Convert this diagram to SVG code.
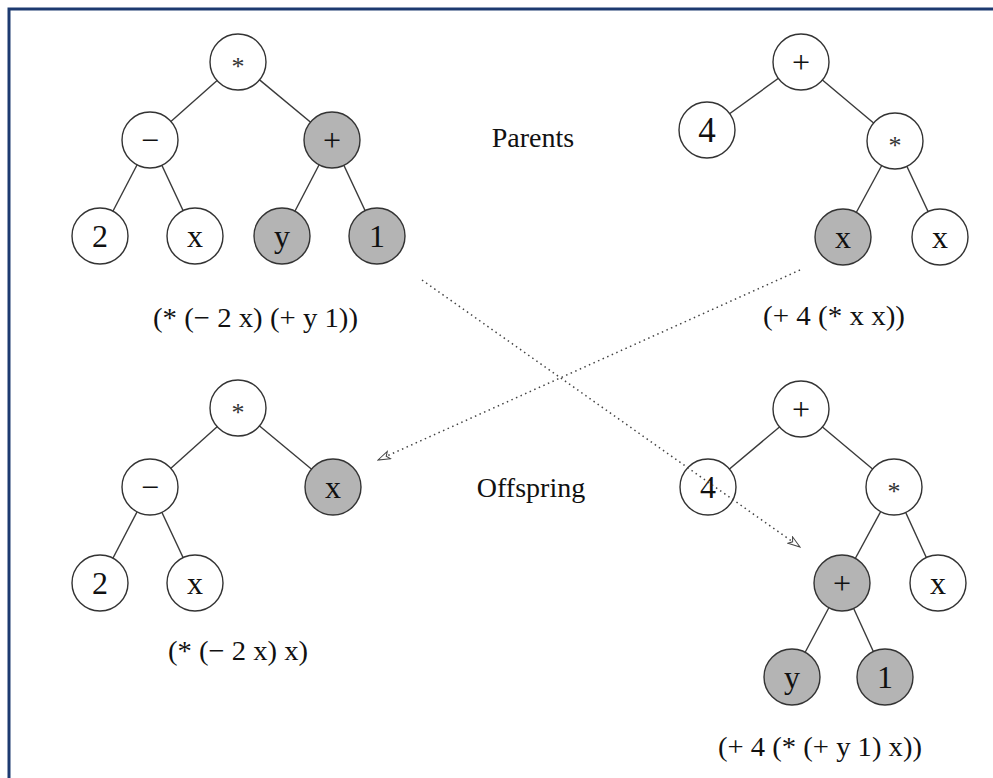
<svg xmlns="http://www.w3.org/2000/svg" width="993" height="778" viewBox="0 0 993 778">
  <style>
    .edge { stroke: #3a3a3a; stroke-width: 1.4; fill: none; }
    .node circle { stroke: #333; stroke-width: 1.4; fill: #fff; }
    .node.sel circle { fill: #b4b4b4; }
    .node text { font-family: "Liberation Serif", "Times New Roman", serif; font-size: 32px; text-anchor: middle; fill: #111; }
    .node text.star { font-size: 26px; fill: #333; }
    .node text.big { font-size: 35px; }
    .lbl { font-family: "Liberation Serif", "Times New Roman", serif; font-size: 28px; text-anchor: middle; fill: #111; }
    .xover { stroke: #444; stroke-width: 1.5; stroke-dasharray: 1.5 3.5; fill: none; marker-end: url(#open); }
  </style>
  <defs>
    <marker id="open" viewBox="0 0 14 10" refX="13" refY="5" markerWidth="14" markerHeight="10" markerUnits="userSpaceOnUse" orient="auto">
      <path d="M1,1 L13,5 L1,9 L4,5 Z" fill="#fff" stroke="#444" stroke-width="1"/>
    </marker>
  </defs>

  <rect x="9" y="9" width="1000" height="1000" fill="#fff" stroke="#1d3a70" stroke-width="3"/>

  <!-- tree edges -->
  <g id="tree-edges">
    <line class="edge" x1="238" y1="62" x2="150" y2="140"/>
    <line class="edge" x1="238" y1="62" x2="332" y2="140"/>
    <line class="edge" x1="150" y1="140" x2="100" y2="236"/>
    <line class="edge" x1="150" y1="140" x2="195" y2="236"/>
    <line class="edge" x1="332" y1="140" x2="282" y2="236"/>
    <line class="edge" x1="332" y1="140" x2="377" y2="236"/>

    <line class="edge" x1="801" y1="62" x2="707" y2="130"/>
    <line class="edge" x1="801" y1="62" x2="895" y2="141"/>
    <line class="edge" x1="895" y1="141" x2="843" y2="237"/>
    <line class="edge" x1="895" y1="141" x2="940" y2="237"/>

    <line class="edge" x1="238" y1="408" x2="150" y2="487"/>
    <line class="edge" x1="238" y1="408" x2="333" y2="487"/>
    <line class="edge" x1="150" y1="487" x2="100" y2="583"/>
    <line class="edge" x1="150" y1="487" x2="195" y2="583"/>

    <line class="edge" x1="801" y1="409" x2="708" y2="487"/>
    <line class="edge" x1="801" y1="409" x2="894" y2="487"/>
    <line class="edge" x1="894" y1="487" x2="842" y2="583"/>
    <line class="edge" x1="894" y1="487" x2="938" y2="583"/>
    <line class="edge" x1="842" y1="583" x2="792" y2="677"/>
    <line class="edge" x1="842" y1="583" x2="885" y2="677"/>
  </g>

  <!-- parent 1: (* (- 2 x) (+ y 1)) -->
  <g id="p1-mul" class="node"><circle cx="238" cy="62" r="28"/><text class="star" x="238" y="75">*</text></g>
  <g id="p1-sub" class="node"><circle cx="150" cy="140" r="28"/><text x="150" y="151">−</text></g>
  <g id="p1-add" class="node sel"><circle cx="332" cy="140" r="28"/><text x="332" y="151">+</text></g>
  <g id="p1-2" class="node"><circle cx="100" cy="236" r="28"/><text x="100" y="247">2</text></g>
  <g id="p1-x" class="node"><circle cx="195" cy="236" r="28"/><text x="195" y="247">x</text></g>
  <g id="p1-y" class="node sel"><circle cx="282" cy="236" r="28"/><text x="282" y="247">y</text></g>
  <g id="p1-1" class="node sel"><circle cx="377" cy="236" r="28"/><text x="377" y="247">1</text></g>

  <!-- parent 2: (+ 4 (* x x)) -->
  <g id="p2-add" class="node"><circle cx="801" cy="62" r="28"/><text x="801" y="73">+</text></g>
  <g id="p2-4" class="node"><circle cx="707" cy="130" r="28"/><text class="big" x="707" y="142">4</text></g>
  <g id="p2-mul" class="node"><circle cx="895" cy="141" r="28"/><text class="star" x="895" y="154">*</text></g>
  <g id="p2-x1" class="node sel"><circle cx="843" cy="237" r="28"/><text x="843" y="248">x</text></g>
  <g id="p2-x2" class="node"><circle cx="940" cy="237" r="28"/><text x="940" y="248">x</text></g>

  <!-- offspring 1: (* (- 2 x) x) -->
  <g id="o1-mul" class="node"><circle cx="238" cy="408" r="28"/><text class="star" x="238" y="421">*</text></g>
  <g id="o1-sub" class="node"><circle cx="150" cy="487" r="28"/><text x="150" y="498">−</text></g>
  <g id="o1-x" class="node sel"><circle cx="333" cy="487" r="28"/><text x="333" y="498">x</text></g>
  <g id="o1-2" class="node"><circle cx="100" cy="583" r="28"/><text x="100" y="594">2</text></g>
  <g id="o1-x2" class="node"><circle cx="195" cy="583" r="28"/><text x="195" y="594">x</text></g>

  <!-- offspring 2: (+ 4 (* (+ y 1) x)) -->
  <g id="o2-add" class="node"><circle cx="801" cy="409" r="28"/><text x="801" y="420">+</text></g>
  <g id="o2-4" class="node"><circle cx="708" cy="487" r="28"/><text x="708" y="498">4</text></g>
  <g id="o2-mul" class="node"><circle cx="894" cy="487" r="28"/><text class="star" x="894" y="500">*</text></g>
  <g id="o2-add2" class="node sel"><circle cx="842" cy="583" r="28"/><text x="842" y="594">+</text></g>
  <g id="o2-x" class="node"><circle cx="938" cy="583" r="28"/><text x="938" y="594">x</text></g>
  <g id="o2-y" class="node sel"><circle cx="792" cy="677" r="28"/><text x="792" y="688">y</text></g>
  <g id="o2-1" class="node sel"><circle cx="885" cy="677" r="28"/><text x="885" y="688">1</text></g>

  <!-- labels -->
  <g id="labels">
    <text class="lbl" x="533" y="147">Parents</text>
    <text class="lbl" x="531" y="497">Offspring</text>
    <text class="lbl" x="255.5" y="327" textLength="205" lengthAdjust="spacingAndGlyphs">(* (− 2 x) (+ y 1))</text>
    <text class="lbl" x="834" y="325" textLength="142" lengthAdjust="spacingAndGlyphs">(+ 4 (* x x))</text>
    <text class="lbl" x="238" y="660" textLength="140" lengthAdjust="spacingAndGlyphs">(* (− 2 x) x)</text>
    <text class="lbl" x="820" y="756" textLength="204" lengthAdjust="spacingAndGlyphs">(+ 4 (* (+ y 1) x))</text>
  </g>

  <!-- crossover arrows (subtree swap) -->
  <g id="crossover">
    <line class="xover" x1="422" y1="280" x2="800" y2="547"/>
    <line class="xover" x1="800" y1="270" x2="378" y2="460"/>
  </g>
</svg>
